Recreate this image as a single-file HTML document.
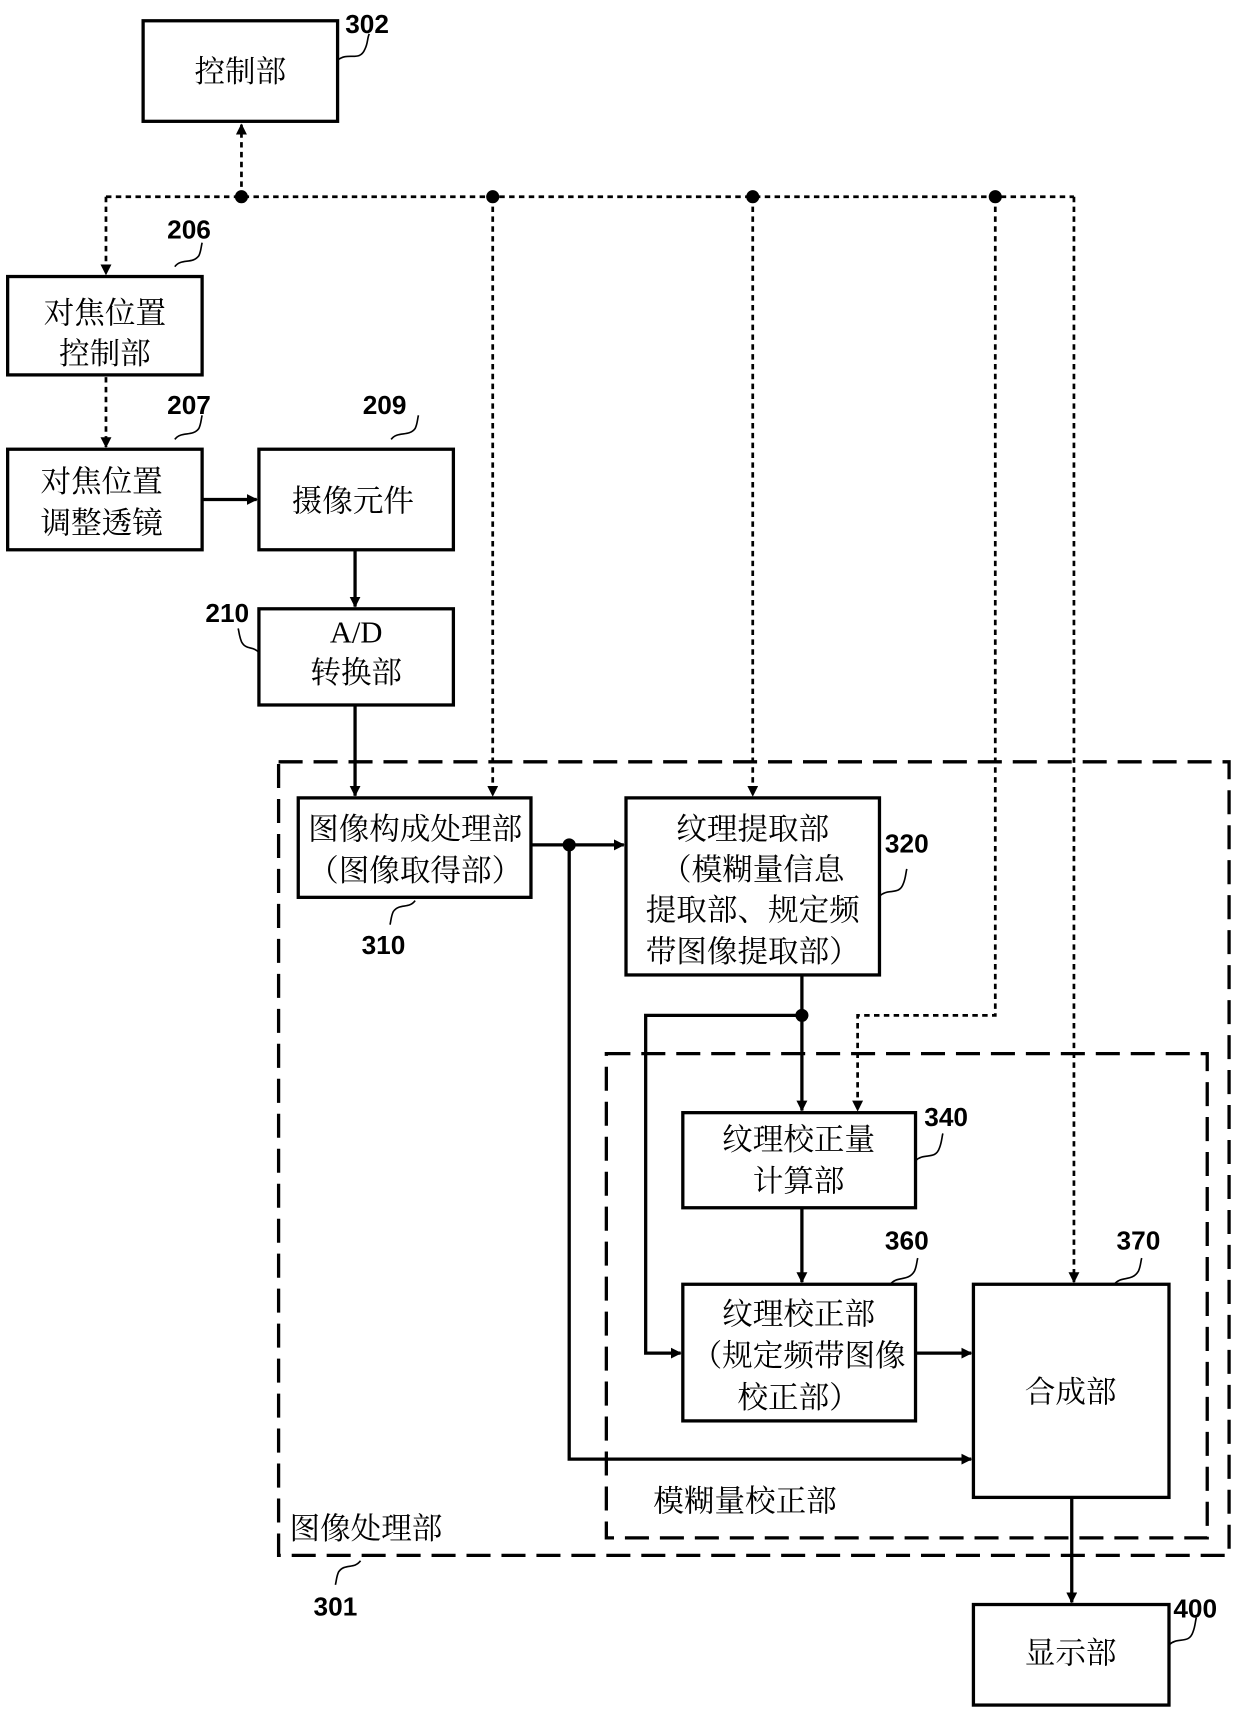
<!DOCTYPE html>
<html><head><meta charset="utf-8"><style>
html,body{margin:0;padding:0;background:#fff;}
svg{display:block;}
text{font-family:"Liberation Serif","Noto Serif CJK SC",serif;font-size:28px;fill:#000;text-anchor:middle;}
.n{font-family:"Liberation Sans",sans-serif;font-weight:bold;font-size:24px;text-anchor:start;}
.l{text-anchor:start;}
</style></head><body>
<svg width="1240" height="1716" viewBox="0 0 1135 1570" preserveAspectRatio="none" xmlns="http://www.w3.org/2000/svg">
<defs>
<marker id="a" markerWidth="10" markerHeight="10" refX="9" refY="5" orient="auto" markerUnits="userSpaceOnUse" viewBox="0 0 10 10"><path d="M0,0 L10,5 L0,10 z" fill="#000"/></marker>
</defs>
<g fill="none" stroke="#000" stroke-width="3">
<rect x="131" y="19" width="178" height="92"/>
<rect x="7" y="253" width="178" height="90"/>
<rect x="7" y="411" width="178" height="92"/>
<rect x="237" y="411" width="178" height="92"/>
<rect x="237" y="557" width="178" height="88"/>
<rect x="273" y="730" width="213" height="91"/>
<rect x="573" y="730" width="232" height="162"/>
<rect x="625" y="1018" width="213" height="87"/>
<rect x="625" y="1175" width="213" height="125"/>
<rect x="891" y="1175" width="179" height="195"/>
<rect x="891" y="1468" width="179" height="92"/>
</g>
<g fill="none" stroke="#000" stroke-width="3" stroke-dasharray="22,10">
<rect x="255" y="697" width="870" height="726"/>
<rect x="555" y="964" width="550" height="443"/>
</g>
<!-- dotted control lines -->
<g fill="none" stroke="#000" stroke-width="2.5" stroke-dasharray="5,4">
<line x1="97" y1="180" x2="983" y2="180"/>
<line x1="221" y1="180" x2="221" y2="114" marker-end="url(#a)"/>
<line x1="97" y1="180" x2="97" y2="251" marker-end="url(#a)"/>
<line x1="97" y1="345" x2="97" y2="409" marker-end="url(#a)"/>
<line x1="451" y1="180" x2="451" y2="728" marker-end="url(#a)"/>
<line x1="689" y1="180" x2="689" y2="728" marker-end="url(#a)"/>
<polyline points="911,180 911,929 785,929 785,1016" marker-end="url(#a)"/>
<polyline points="983,180 983,1173" marker-end="url(#a)"/>
</g>
<g fill="#000">
<circle cx="221" cy="180" r="6"/><circle cx="451" cy="180" r="6"/><circle cx="689" cy="180" r="6"/><circle cx="911" cy="180" r="6"/>
<circle cx="521" cy="773" r="6"/><circle cx="734" cy="929" r="6"/>
</g>
<!-- solid connectors -->
<g fill="none" stroke="#000" stroke-width="3">
<line x1="185" y1="457" x2="235" y2="457" marker-end="url(#a)"/>
<line x1="325" y1="503" x2="325" y2="555" marker-end="url(#a)"/>
<line x1="325" y1="645" x2="325" y2="728" marker-end="url(#a)"/>
<line x1="486" y1="773" x2="571" y2="773" marker-end="url(#a)"/>
<polyline points="521,773 521,1335 889,1335" marker-end="url(#a)"/>
<line x1="734" y1="892" x2="734" y2="1016" marker-end="url(#a)"/>
<polyline points="734,929 591,929 591,1238 623,1238" marker-end="url(#a)"/>
<line x1="734" y1="1105" x2="734" y2="1173" marker-end="url(#a)"/>
<line x1="838" y1="1238" x2="889" y2="1238" marker-end="url(#a)"/>
<line x1="981" y1="1370" x2="981" y2="1466" marker-end="url(#a)"/>
</g>
<!-- leader squiggles -->
<g fill="none" stroke="#000" stroke-width="1.5">
<path d="M309,55 c10,-8 20,2 25,-10 c3,-6 2,-10 4,-14"/>
<path d="M160,244 c6,-8 16,-2 22,-10 c2,-4 2,-8 3,-12"/>
<path d="M160,402 c6,-8 16,-2 22,-10 c2,-4 2,-8 3,-12"/>
<path d="M358,402 c6,-8 16,-2 22,-10 c2,-4 2,-8 3,-12"/>
<path d="M237,597 c-5,-6 -12,-2 -16,-10 c-2,-5 -2,-8 -3,-12"/>
<path d="M380,824 c-6,8 -14,2 -20,10 c-2,4 -2,8 -3,12"/>
<path d="M805,820 c8,-8 18,0 22,-12 c2,-5 2,-9 3,-13"/>
<path d="M838,1062 c8,-8 18,0 22,-12 c2,-5 2,-9 3,-13"/>
<path d="M815,1175 c6,-8 16,-2 22,-12 c2,-4 2,-8 3,-12"/>
<path d="M1020,1175 c6,-8 16,-2 22,-12 c2,-4 2,-8 3,-12"/>
<path d="M1070,1505 c8,-8 18,0 22,-12 c2,-5 2,-9 3,-13"/>
<path d="M330,1428 c-6,8 -14,2 -20,10 c-2,4 -2,8 -3,12"/>
</g>
<!-- box text -->
<text x="220" y="75">控制部</text>
<text x="96" y="296">对焦位置</text>
<text x="96" y="333">控制部</text>
<text x="93" y="450">对焦位置</text>
<text x="93" y="488">调整透镜</text>
<text x="323" y="468">摄像元件</text>
<text x="326" y="588">A/D</text>
<text x="326" y="625">转换部</text>
<text x="380" y="768">图像构成处理部</text>
<text x="380" y="806">（图像取得部）</text>
<text x="689" y="768">纹理提取部</text>
<text x="689" y="805">（模糊量信息</text>
<text x="689" y="842">提取部、规定频</text>
<text x="689" y="880">带图像提取部）</text>
<text x="731" y="1052">纹理校正量</text>
<text x="731" y="1090">计算部</text>
<text x="731" y="1212">纹理校正部</text>
<text x="731" y="1250">（规定频带图像</text>
<text x="731" y="1288">校正部）</text>
<text x="980" y="1283">合成部</text>
<text x="980" y="1522">显示部</text>
<text class="l" x="598" y="1383">模糊量校正部</text>
<text class="l" x="265" y="1408">图像处理部</text>
<!-- numbers -->
<text class="n" x="316" y="30">302</text>
<text class="n" x="153" y="218">206</text>
<text class="n" x="153" y="379">207</text>
<text class="n" x="332" y="379">209</text>
<text class="n" x="188" y="569">210</text>
<text class="n" x="331" y="873">310</text>
<text class="n" x="810" y="780">320</text>
<text class="n" x="846" y="1030">340</text>
<text class="n" x="810" y="1143">360</text>
<text class="n" x="1022" y="1143">370</text>
<text class="n" x="1074" y="1480">400</text>
<text class="n" x="287" y="1478">301</text>
</svg>
</body></html>
